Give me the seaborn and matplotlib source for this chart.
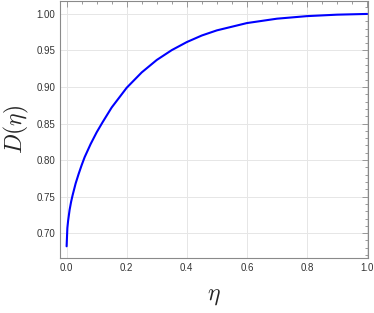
import numpy as np
import pandas as pd
import matplotlib
matplotlib.use('Agg')
import matplotlib.pyplot as plt
import seaborn as sns
from matplotlib.ticker import MultipleLocator, FormatStrFormatter

# values
eta = [0.0, 0.0025, 0.005, 0.01, 0.015, 0.02, 0.03, 0.04, 0.05, 0.06, 0.08, 0.10, 0.12,
       0.15, 0.20, 0.25, 0.30, 0.35, 0.40, 0.45, 0.50, 0.60, 0.70, 0.80, 0.90, 1.00]
D = [0.682, 0.707, 0.717, 0.732, 0.743, 0.752, 0.768, 0.781, 0.793, 0.804, 0.822, 0.838, 0.852,
     0.872, 0.899, 0.920, 0.937, 0.9505, 0.9615, 0.9705, 0.9775, 0.9875, 0.9935, 0.997, 0.999, 1.000]

df = pd.DataFrame({"eta": eta, "D": D})

sns.set_style("white")
plt.rcParams['mathtext.fontset'] = 'cm'
plt.rcParams['font.family'] = ['Liberation Sans', 'DejaVu Sans']

fig = plt.figure(figsize=(3.74, 3.13), dpi=100)
ax = fig.add_axes([60/374, 1 - 258/313, 308/374, 257/313])

sns.lineplot(data=df, x="eta", y="D", color=(0, 0, 1), linewidth=1.5, ax=ax)

ax.set_xlim(-0.022, 1.003)
ax.set_ylim(0.666, 1.0177)

ax.xaxis.set_major_locator(MultipleLocator(0.2))
ax.xaxis.set_minor_locator(MultipleLocator(0.05))
ax.yaxis.set_major_locator(MultipleLocator(0.05))
ax.yaxis.set_minor_locator(MultipleLocator(0.01))
ax.xaxis.set_major_formatter(FormatStrFormatter('%.1f'))
ax.yaxis.set_major_formatter(FormatStrFormatter('%.2f'))

ax.grid(True, which='major', color='#e6e6e6', linewidth=0.7)
ax.tick_params(which='both', direction='in', top=True, right=True, colors='#8a8a8a',
               labelcolor='#333333', labelsize=7, width=0.6)
ax.tick_params(which='major', length=4)
ax.tick_params(which='minor', length=2)
for s in ax.spines.values():
    s.set_color('#8a8a8a')
    s.set_linewidth(0.8)

ax.set_xlabel(r'$\eta$', fontsize=17, labelpad=9)
ax.set_ylabel(r'$D(\eta)$', fontsize=17, labelpad=4)

fig.savefig('out.png', dpi=100)
